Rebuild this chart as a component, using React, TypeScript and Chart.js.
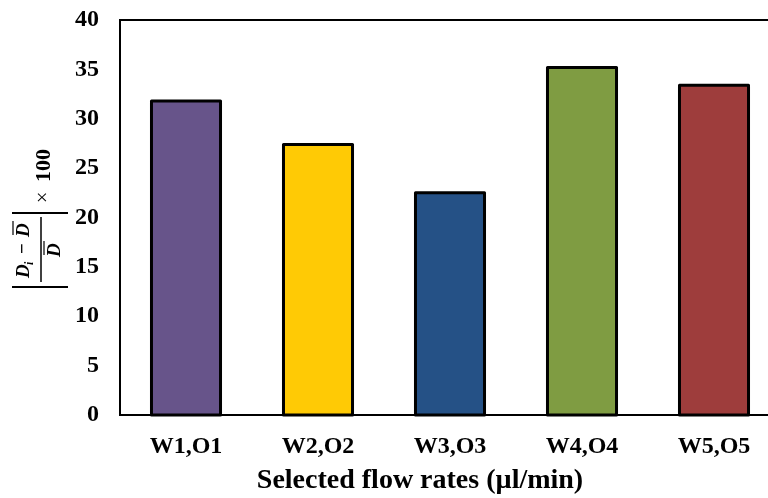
import React, { useEffect, useRef } from "react";
import { Chart, registerables } from "chart.js";

Chart.register(...registerables);

const categories = ["W1,O1", "W2,O2", "W3,O3", "W4,O4", "W5,O5"];
const values = [31.8, 27.4, 22.5, 35.2, 33.4];
const barColors = ["#67548A", "#FFCA05", "#255186", "#7F9C42", "#9E3D3C"];
const yTicks = [0, 5, 10, 15, 20, 25, 30, 35, 40];
const xTitle = "Selected flow rates (\u00B5l/min)";

const SERIF = "'Liberation Serif', 'Times New Roman', serif";

const framePlugin = {
  id: "frame",
  afterDatasetsDraw(chart: any) {
    const ctx = chart.ctx;
    const meta = chart.getDatasetMeta(0);
    ctx.save();
    ctx.strokeStyle = "#000";
    ctx.lineWidth = 3;
    ctx.lineJoin = "round";
    meta.data.forEach((bar: any) => {
      const { x, y, base, width } = bar.getProps(["x", "y", "base", "width"], true);
      ctx.strokeRect(x - width / 2, y, width, base - y);
    });
    const a = chart.chartArea;
    ctx.lineWidth = 2;
    ctx.lineJoin = "miter";
    ctx.strokeRect(a.left, a.top, a.right - a.left, a.bottom - a.top);
    ctx.restore();
  },
  afterDraw(chart: any) {
    const ctx = chart.ctx;
    const a = chart.chartArea;
    ctx.save();
    // x-axis title
    ctx.fillStyle = "#000";
    ctx.font = `bold 28px ${SERIF}`;
    ctx.textAlign = "center";
    ctx.textBaseline = "alphabetic";
    ctx.fillText(xTitle, a.left + 300, 488);

    // y-axis formula, rotated
    ctx.translate(41, 249);
    ctx.rotate(-Math.PI / 2);
    ctx.strokeStyle = "#000";
    ctx.lineWidth = 2;
    // absolute value bars
    ctx.beginPath();
    ctx.moveTo(36, -29);
    ctx.lineTo(36, 27);
    ctx.moveTo(-38, -29);
    ctx.lineTo(-38, 27);
    ctx.stroke();
    // fraction line
    ctx.lineWidth = 1.5;
    ctx.beginPath();
    ctx.moveTo(-33, 0);
    ctx.lineTo(32, 0);
    ctx.stroke();
    ctx.textAlign = "left";
    // numerator
    ctx.font = `italic bold 19px ${SERIF}`;
    ctx.fillText("D", -29, -12);
    ctx.font = `italic bold 12px ${SERIF}`;
    ctx.fillText("i", -16, -8);
    ctx.font = `bold 19px ${SERIF}`;
    ctx.fillText("\u2212", -5, -13);
    ctx.font = `italic bold 19px ${SERIF}`;
    ctx.fillText("D", 12, -12);
    ctx.lineWidth = 1.2;
    ctx.beginPath();
    ctx.moveTo(14, -28);
    ctx.lineTo(28, -28);
    ctx.stroke();
    // denominator
    ctx.fillText("D", -8, 19);
    ctx.beginPath();
    ctx.moveTo(-6, 3);
    ctx.lineTo(8, 3);
    ctx.stroke();
    // x 100
    ctx.font = `20px ${SERIF}`;
    ctx.fillText("\u00D7", 46, 8);
    ctx.font = `bold 22px ${SERIF}`;
    ctx.fillText("100", 67, 9);
    ctx.restore();
  },
};

export default function App() {
  const ref = useRef<HTMLCanvasElement>(null);

  useEffect(() => {
    if (!ref.current) return;
    const chart = new Chart(ref.current, {
      type: "bar",
      data: {
        labels: categories,
        datasets: [
          {
            data: values,
            backgroundColor: barColors,
            borderWidth: 0,
            barPercentage: 0.523,
            categoryPercentage: 1,
          },
        ],
      },
      options: {
        responsive: false,
        animation: false,
        devicePixelRatio: 1,
        layout: { padding: { top: 20, left: 0, right: 0, bottom: 0 } },
        plugins: {
          legend: { display: false },
          tooltip: { enabled: false },
        },
        scales: {
          x: {
            type: "category",
            offset: true,
            grid: { display: false, drawTicks: false },
            border: { display: false },
            ticks: {
              color: "#000",
              padding: 17,
              maxRotation: 0,
              font: { family: SERIF, size: 24, weight: "bold" },
            },
            afterFit: (scale: any) => {
              scale.height = 83;
              scale.paddingLeft = 0;
              scale.paddingRight = 0;
            },
          },
          y: {
            min: 0,
            max: 40,
            afterBuildTicks: (scale: any) => {
              scale.ticks = yTicks.map((v) => ({ value: v }));
            },
            grid: { display: false, drawTicks: false },
            border: { display: false },
            ticks: {
              color: "#000",
              padding: 21,
              font: { family: SERIF, size: 24, weight: "bold" },
            },
            afterFit: (scale: any) => {
              scale.width = 120;
              scale.paddingTop = 0;
              scale.paddingBottom = 0;
            },
          },
        },
      },
      plugins: [framePlugin],
    });
    return () => chart.destroy();
  }, []);

  return (
    <div
      style={{
        position: "fixed",
        left: 0,
        top: 0,
        width: 768,
        height: 498,
        overflow: "hidden",
        background: "#fff",
      }}
    >
      <canvas ref={ref} width={780} height={498} style={{ display: "block", width: 780, height: 498 }} />
    </div>
  );
}
